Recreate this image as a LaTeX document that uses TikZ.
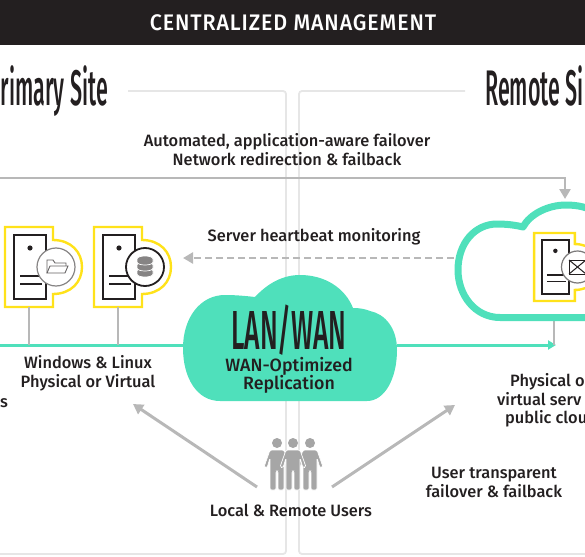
\documentclass[tikz,border=0pt]{standalone}
\usepackage{fontspec}
\setmainfont{Fira Sans}[UprightFont={* Medium}]
\newfontfamily\narrowfont[FakeStretch=0.43,UprightFont={* Medium}]{Fira Sans}
\newfontfamily\lanfont[FakeStretch=0.48,UprightFont={* Medium}]{Fira Sans}
\newfontfamily\headfont[FakeStretch=0.95,LetterSpace=4,UprightFont={* Medium}]{Fira Sans}
\usetikzlibrary{arrows.meta,calc,positioning}

\definecolor{teal}{HTML}{4FE0BB}
\definecolor{marker}{HTML}{FFE21A}
\definecolor{ink}{HTML}{231F20}
\definecolor{feed}{HTML}{B8B8B8}
\definecolor{frame}{HTML}{E6E6E6}

\begin{document}
\begin{tikzpicture}[
    x=1pt, y=-1pt,
    label/.style={font=\fontsize{16.4}{19}\selectfont, color=ink, align=center, inner sep=0pt},
    sitename/.style={font=\narrowfont\fontsize{50}{50}\selectfont, color=ink, inner sep=0pt},
    anchorbox/.style={inner sep=0pt, outer sep=0pt},
    framing/.style={draw=frame, line width=1.8pt, rounded corners=3pt},
    feeder/.style={draw=feed, line width=2.6pt},
    wire/.style={draw=teal, line width=3pt},
    tip/.style={-{Triangle[width=11pt,length=10pt]}},
    glyph/.style={draw=ink!70, line width=0.9pt, fill=white}
]
\clip (0,0) rectangle (585,556);
\useasboundingbox (0,0) rectangle (585,556);

% Header bar
\fill[ink] (0,0) rectangle (585,45);
\node[font=\headfont\fontsize{22.5}{22.5}\selectfont, color=white, inner sep=0pt] (header) at (293,23) {CENTRALIZED MANAGEMENT};

% Site frames
\draw[framing] (128,91) -- (286,91) -- (286,554) -- (-5,554);
\draw[framing] (465,91) -- (299,91) -- (299,554) -- (590,554);

% Site names
\node[sitename, anchor=base east] (primary) at (108,106) {rimary Site};
\node[sitename, anchor=base west] (remotename) at (485,106) {Remote Si};

% Anchors for the connectors
\node[anchorbox, minimum width=214pt, minimum height=10pt] (lan) at (290,345) {};
\node[anchorbox, minimum width=222pt, minimum height=118pt] (remote) at (565,258) {};
\coordinate (failstart) at (-5,178);
\coordinate (wirestart) at (-5,345);
\coordinate (wireend) at (556,345);
\coordinate (remotefoot) at (554,317);
\coordinate (beat) at (183,258);
\coordinate (userl) at (257,487);
\coordinate (userr) at (332,487);
\coordinate (tipl) at (133,404);
\coordinate (tipr) at (455,405);

% Failover line and heartbeat
\draw[feeder, tip] (failstart) -| (remote.north);
\draw[feeder, tip, dash pattern=on 7pt off 4pt] (remote.west) -- (beat);

% Replication wire
\draw[wire] (wirestart) -- (lan);
\draw[wire, -{Triangle[width=9pt,length=8pt]}] (lan) -- (wireend);
\draw[feeder] (remotefoot) -- (554,345);

% Servers
\foreach \x/\s/\n in {29/1/1, 118/1/2, 554.5/0.85/3} {
  \begin{scope}[shift={(\x,267)}, scale=\s]
    \node[anchorbox, minimum width=48pt, minimum height=80pt, transform shape] (srv\n) at (0,0) {};
    \draw[draw=marker, line width=2.4pt, fill=white] (-24,-40) -- (24,-40) -- (24,-27)
      .. controls (42,-27) and (53,-15) .. (53,0)
      .. controls (53,15) and (42,27) .. (24,27) -- (24,40) -- (-24,40) -- cycle;
    \draw[draw=ink, line width=2pt, fill=white] (-15,-32) rectangle (17,32);
    \fill[ink] (1,-19) circle (2.6);
    \draw[ink, line width=1.8pt] (-9,9) -- (13,9);
    \draw[ink, line width=1.8pt] (-9,17) -- (13,17);
  \end{scope}
}

% Server links
\draw[feeder] (srv1.south) -- (srv1.south |- lan);
\draw[feeder] (srv2.south) -- (srv2.south |- lan);

% Folder
\draw[draw=ink!55, line width=1.2pt, fill=white] (56,267) circle (19);
\draw[glyph] (47,273) -- (47,260) -- (53,260) -- (55,263) -- (66,263) -- (66,266);
\draw[glyph] (47,273) -- (50,266) -- (68,266) -- (65,273) -- cycle;

% Database
\draw[draw=ink, line width=1.8pt, fill=white] (145,267) circle (19);
\foreach \y in {274,268,262} {
  \draw[draw=white, line width=0.7pt, fill=ink!55] (137,\y-3) -- (137,\y)
    .. controls (137,\y+4) and (153,\y+4) .. (153,\y) -- (153,\y-3)
    .. controls (153,\y-7) and (137,\y-7) .. (137,\y-3) -- cycle;
}

% Envelope
\draw[draw=ink!60, line width=1.2pt, fill=white] (577.5,267) circle (16);
\draw[draw=ink, line width=1pt] (569,260) rectangle (586,274);
\draw[draw=ink, line width=1pt] (569,260) -- (586,274);
\draw[draw=ink, line width=1pt] (569,274) -- (586,260);

% Clouds
\fill[teal] (220,401) .. controls (197,401) and (183,378) .. (183,348)
  .. controls (183,318) and (200,295) .. (225,295)
  .. controls (236,295) and (246,296) .. (255,297)
  .. controls (268,283) and (283,275) .. (300,275)
  .. controls (325,275) and (345,288) .. (353,308)
  .. controls (360,308) and (365,309) .. (370,311)
  .. controls (385,314) and (397,328) .. (397,350)
  .. controls (397,378) and (385,401) .. (367,401) -- cycle;
\draw[teal, line width=7pt, line join=round] (610,317.5) -- (500,317.5)
  .. controls (475,317.5) and (458,295) .. (458,270)
  .. controls (458,243) and (475,224) .. (497,224)
  .. controls (506,224) and (515,225) .. (523,227)
  .. controls (530,214) and (548,205) .. (566,205)
  .. controls (590,205) and (605,215) .. (610,230);

% Cloud text
\node[font=\lanfont\fontsize{55}{55}\selectfont, color=ink, inner sep=0pt, anchor=base, text depth=0pt] (lantitle) at (289,349) {LAN/WAN};
\node[label, font=\fontsize{17.8}{18.5}\selectfont, anchor=base] (lansub) at (289,371) {WAN-Optimized};
\node[label, font=\fontsize{17.8}{18.5}\selectfont, anchor=base] (lansub2) at (289,389.5) {Replication};

% Labels
\node[label] (faillabel) at (287,149.5) {Automated, application-aware failover\\Network redirection \& failback};
\node[label] (beatlabel) at (314,237) {Server heartbeat monitoring};
\node[label] (oslabel) at (88,373) {Windows \& Linux\\Physical or Virtual};
\node[label, anchor=base west] (cutlabel) at (0,407) {s};
\node[label, anchor=base west] (cloudlabel1) at (510,386) {Physical o};
\node[label, anchor=base west] (cloudlabel2) at (497,405) {virtual serv};
\node[label, anchor=base west] (cloudlabel3) at (505,423) {public clou};
\node[label] (ubalabel) at (494,482.5) {User transparent\\failover \& failback};
\node[label] (userlabel) at (291,510) {Local \& Remote Users};

% Users
\draw[feeder, tip, line width=3pt] (userl) -- (tipl);
\draw[feeder, tip, line width=3pt] (userr) -- (tipr);
\foreach \x in {277,310,293} {
  \begin{scope}[shift={(\x,443)}]
    \fill[feed!90!black] (0,0) circle (5);
    \draw[draw=white, line width=0.7pt, fill=feed!90!black, rounded corners=1.5pt] (-7,7) -- (7,7) -- (13,24) -- (10,25) -- (7,15) -- (7,47)
      -- (1,47) -- (1,28) -- (-1,28) -- (-1,47) -- (-7,47) -- (-7,15) -- (-10,25) -- (-13,24) -- cycle;
  \end{scope}
}

\end{tikzpicture}
\end{document}
